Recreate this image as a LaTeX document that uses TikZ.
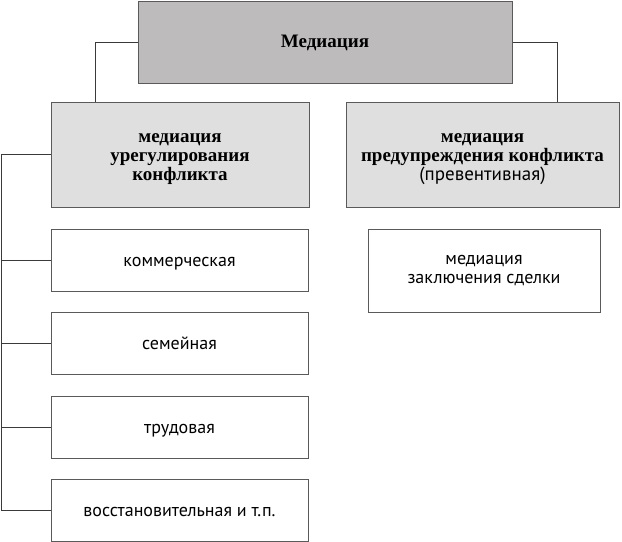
\documentclass[tikz,border=0pt]{standalone}
\usepackage{fontspec}
\setmainfont{Liberation Serif}
\newfontfamily\regfont{PT Sans}
\definecolor{boxline}{HTML}{5A5A5A}
\definecolor{connline}{HTML}{3A3A3A}
\definecolor{topfill}{HTML}{BDBBBC}
\definecolor{midfill}{HTML}{DFDFDF}
\newcommand\firststrut{\rule{0pt}{13.5pt}}
\begin{document}
\begin{tikzpicture}[x=0.75pt,y=-0.75pt,
  box/.style={draw=boxline, line width=0.75pt, inner sep=0pt, align=center},
  topbox/.style={box, fill=topfill, minimum width=280.5pt, minimum height=61.5pt,
    font=\fontsize{14.25pt}{14.25pt}\selectfont\bfseries},
  midbox/.style={box, fill=midfill, minimum height=78pt,
    font=\fontsize{14.25pt}{14.25pt}\selectfont\bfseries},
  leafbox/.style={box, fill=white, font=\fontsize{13.5pt}{14.25pt}\regfont},
  oneline/.style={text height=9pt, text depth=0pt},
  conn/.style={draw=connline, line width=0.75pt}]
\useasboundingbox (0,0) rectangle (622,542);

\node[topbox] (top) at (325,43) {Медиация};
\node[midbox, minimum width=193.5pt] (reg) at (180,155) {\firststrut медиация\\урегулирования\\конфликта};
\node[midbox, minimum width=204.75pt] (prev) at (482.5,155) {\firststrut медиация\\предупреждения конфликта\\{\regfont\mdseries (превентивная)}};

\node[leafbox, oneline, minimum width=192.75pt, minimum height=46.5pt] (l1) at (179.5,260) {коммерческая};
\node[leafbox, oneline, minimum width=192.75pt, minimum height=46.5pt] (l2) at (179.5,343.5) {семейная};
\node[leafbox, oneline, minimum width=192.75pt, minimum height=46.5pt] (l3) at (179.5,427) {трудовая};
\node[leafbox, oneline, minimum width=192.75pt, minimum height=46.5pt] (l4) at (179.5,510.5) {восстановительная и т.п.};

\node[leafbox, minimum width=174pt, minimum height=62.25pt] (deal) at (484,270.5) {медиация\\заключения сделки};

\coordinate (lk) at (95,43);
\coordinate (rk) at (557,43);
\coordinate (sp) at (1,155);

\draw[conn] (top.west) -- (lk) -- (lk |- reg.north);
\draw[conn] (top.east) -- (rk) -- (rk |- prev.north);
\draw[conn] (reg.west) -- (sp) -- (sp |- l4.west) -- (l4.west);
\draw[conn] (sp |- l1.west) -- (l1.west);
\draw[conn] (sp |- l2.west) -- (l2.west);
\draw[conn] (sp |- l3.west) -- (l3.west);
\end{tikzpicture}
\end{document}
